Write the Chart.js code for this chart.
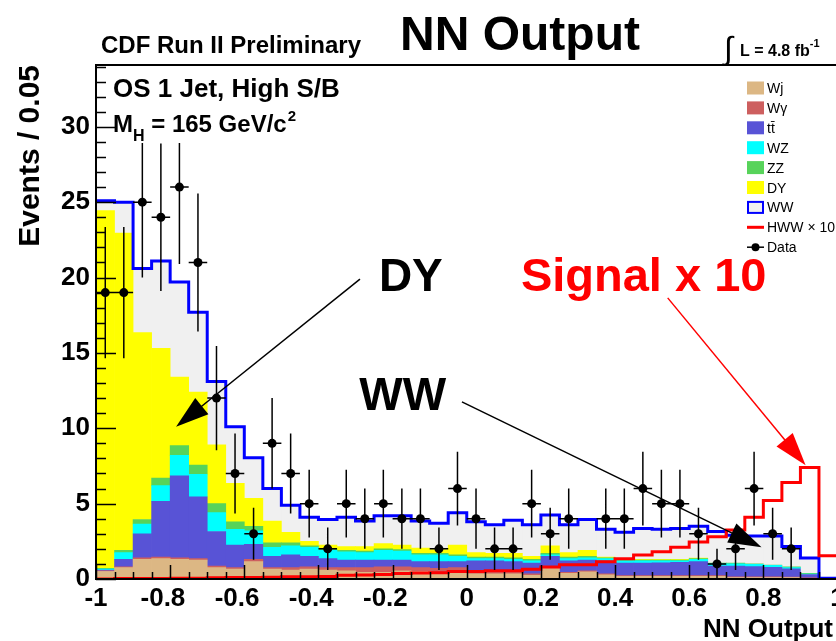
<!DOCTYPE html>
<html>
<head>
<meta charset="utf-8">
<title>NN Output</title>
<script src="https://cdn.jsdelivr.net/npm/chart.js@4.4.1/dist/chart.umd.min.js"></script>
<style>
  html, body { margin: 0; padding: 0; background: #ffffff; overflow: hidden; }
  canvas { display: block; }
</style>
</head>
<body>
<canvas id="chart" width="842" height="641"></canvas>
<script>
// NN output, 40 bins of 0.05 between -1 and 1
const binLow = -1;
const binWidth = 0.05;
const nBins = 40;

// stacked backgrounds, bottom to top
const wj = [0.5, 0.75, 1.3, 1.35, 1.3, 1.25, 0.75, 0.65, 1.15, 0.65, 0.6, 0.65, 0.6, 0.55, 0.45, 0.45, 0.55, 0.5, 0.4, 0.55,
            0.35, 0.35, 0.35, 0.25, 0.7, 0.38, 0.47, 0.27, 0.17, 0.17, 0.17, 0.17, 0.17, 0.17, 0.1, 0.1, 0.1, 0.1, 0.05, 0];
const wgamma = [0.05, 0.05, 0.1, 0.1, 0.1, 0.1, 0.1, 0.1, 0.15, 0.1, 0.15, 0.15, 0.15, 0.2, 0.3, 0.35, 0.25, 0.25, 0.3, 0.2,
                0.1, 0.1, 0.1, 0.1, 0.1, 0.07, 0.08, 0.08, 0.05, 0.05, 0.05, 0.05, 0.05, 0.05, 0.04, 0.04, 0.04, 0.03, 0.02, 0];
const ttbar = [0.05, 0.5, 1.6, 3.7, 5.45, 4.1, 2.3, 1.5, 1.0, 0.75, 0.85, 0.7, 0.6, 0.5, 0.5, 0.45, 0.45, 0.4, 0.45, 0.4,
               0.75, 0.75, 0.7, 0.7, 0.7, 0.75, 0.7, 0.85, 0.83, 0.83, 0.86, 0.88, 0.93, 0.64, 0.72, 0.68, 0.64, 0.55, 0.23, 0];
const wz = [0.05, 0.45, 0.65, 1.05, 1.35, 1.5, 1.25, 1.05, 0.9, 0.6, 0.6, 0.6, 0.55, 0.55, 0.5, 0.65, 0.6, 0.45, 0.45, 0.35,
            0.15, 0.15, 0.15, 0.15, 0.1, 0.15, 0.15, 0.15, 0.15, 0.15, 0.12, 0.1, 0.15, 0.14, 0.14, 0.15, 0.12, 0.07, 0.03, 0];
const zz = [0.05, 0.15, 0.3, 0.5, 0.65, 0.6, 0.6, 0.5, 0.3, 0.3, 0.2, 0.1, 0.1, 0.1, 0.1, 0.1, 0.1, 0.1, 0.1, 0.1,
            0.1, 0.1, 0.1, 0.1, 0.1, 0.1, 0.1, 0.05, 0.05, 0.05, 0.05, 0.05, 0.05, 0.05, 0.05, 0.03, 0.03, 0.05, 0.04, 0];
const dy = [23.75, 21.05, 12.4, 8.6, 4.55, 4.85, 3.9, 2.55, 1.85, 1.45, 0.7, 0.3, 0.25, 0.25, 0.3, 0.35, 0.3, 0.35, 0.25, 0.65,
            0.3, 0.25, 0.3, 0.2, 0.5, 0.3, 0.4, 0.05, 0.05, 0.05, 0.05, 0.05, 0.03, 0, 0, 0, 0, 0, 0, 0];
const ww = [0.65, 2.05, 4.25, 5.8, 6.3, 5.3, 4.2, 3.75, 2.7, 2.15, 1.8, 1.6, 1.7, 1.95, 1.7, 1.85, 1.95, 1.8, 1.75, 2.15,
            2.05, 1.9, 2.2, 2.1, 2.05, 1.85, 2.05, 1.85, 1.8, 2.05, 2.0, 2.05, 2.12, 2.1, 1.85, 1.85, 1.92, 1.35, 1.03, 0.05];

// signal (HWW x 10), drawn as a line
const hwwX10 = [0, 0.03, 0.03, 0.03, 0.05, 0.05, 0.08, 0.1, 0.1, 0.12, 0.15, 0.15, 0.17, 0.25, 0.27, 0.3, 0.37, 0.4, 0.42, 0.5,
                0.5, 0.55, 0.55, 0.65, 0.8, 0.95, 0.95, 1.15, 1.35, 1.6, 1.8, 2.1, 2.45, 2.8, 3.25, 4.1, 5.2, 6.4, 7.4, 1.55];

// observed events and their errors
const dataCounts = [19, 19, 25, 24, 26, 21, 12, 7, 3, 9, 7, 5, 2, 5, 4, 5, 4, 4, 2, 6,
                    4, 2, 2, 5, 3, 4, null, 4, 4, 6, 5, 5, 3, 1, 2, 6, 3, 2, null, null];
const dataErrors = [4.36, 4.36, 5, 4.9, 5.1, 4.58, 3.46, 2.65, 1.73, 3, 2.65, 2.24, 1.41, 2.24, 2, 2.24, 2, 2, 1.41, 2.45,
                    2, 1.41, 1.41, 2.24, 1.73, 2, null, 2, 2, 2.45, 2.24, 2.24, 1.73, 1, 1.41, 2.45, 1.73, 1.41, null, null];

const xTickValues = [-1, -0.8, -0.6, -0.4, -0.2, 0, 0.2, 0.4, 0.6, 0.8, 1];
const yTickValues = [0, 5, 10, 15, 20, 25, 30];

const FONT = "'Liberation Sans', Arial, Helvetica, sans-serif";

const binCenters = Array.from({length: nBins}, (_, i) => binLow + (i + 0.5) * binWidth);
const binEdges = Array.from({length: nBins + 1}, (_, i) => binLow + i * binWidth);
const stackTop = binCenters.map((_, i) => wj[i] + wgamma[i] + ttbar[i] + wz[i] + zz[i] + dy[i] + ww[i]);

function histBars(values) {
  return values.map((v, i) => ({x: binCenters[i], y: v === 0 ? null : v}));
}

function stepLine(values) {
  const pts = values.map((v, i) => ({x: binEdges[i], y: v}));
  pts.push({x: binEdges[nBins], y: values[nBins - 1]});
  return pts;
}

function barSet(label, values, color) {
  return {
    type: 'bar', label, data: histBars(values), backgroundColor: color,
    borderWidth: 0, barPercentage: 1, categoryPercentage: 1, order: 3
  };
}

// ROOT keeps the digits centred on the tick, the minus sign hangs to the left
function xLabel(v) {
  return v < 0 && v > -1 ? String(v) + '\u2007' : String(v);
}

const annotations = [
  {text: 'DY', color: '#000000', size: 46, at: [-0.237, 19.1], from: [-0.288, 19.9], to: [-0.784, 10.1]},
  {text: 'Signal x 10', color: '#ff0000', size: 47, at: [0.146, 19.1], from: [0.542, 18.65], to: [0.914, 7.55]},
  {text: 'WW', color: '#000000', size: 46, at: [-0.29, 11.2], from: [-0.013, 11.75], to: [0.795, 2.1]}
];

const legendOrder = ['Wj', 'Wγ', 'tt̄', 'WZ', 'ZZ', 'DY', 'WW', 'HWW × 10', 'Data'];

function put(ctx, s, x, y, size, opt = {}) {
  ctx.font = `${opt.weight || 'bold'} ${size}px ${FONT}`;
  ctx.fillStyle = opt.color || '#000';
  ctx.textAlign = opt.align || 'left';
  ctx.textBaseline = opt.baseline || 'alphabetic';
  ctx.fillText(s, x, y);
  return ctx.measureText(s).width;
}

function arrow(ctx, x0, y0, x1, y1, color) {
  const ang = Math.atan2(y1 - y0, x1 - x0);
  const len = 33, half = 10.5;
  ctx.strokeStyle = color;
  ctx.fillStyle = color;
  ctx.lineWidth = 1.5;
  ctx.beginPath();
  ctx.moveTo(x0, y0);
  ctx.lineTo(x1 - Math.cos(ang) * len * 0.8, y1 - Math.sin(ang) * len * 0.8);
  ctx.stroke();
  const bx = x1 - Math.cos(ang) * len, by = y1 - Math.sin(ang) * len;
  ctx.beginPath();
  ctx.moveTo(x1, y1);
  ctx.lineTo(bx + Math.sin(ang) * half, by - Math.cos(ang) * half);
  ctx.lineTo(bx - Math.sin(ang) * half, by + Math.cos(ang) * half);
  ctx.closePath();
  ctx.fill();
}

const overlay = {
  id: 'overlay',
  beforeDatasetDraw(chart, args) {
    if (chart.data.datasets[args.index].label !== 'Data') return;
    const {ctx, chartArea: a, scales: {x, y}} = chart;
    ctx.save();
    ctx.beginPath();
    ctx.rect(a.left, a.top, a.right - a.left, a.bottom - a.top);
    ctx.clip();
    ctx.strokeStyle = '#000';
    ctx.lineWidth = 1.5;
    ctx.beginPath();
    dataCounts.forEach((v, i) => {
      if (v === null) return;
      const px = x.getPixelForValue(binCenters[i]);
      const py = y.getPixelForValue(v);
      ctx.moveTo(x.getPixelForValue(binEdges[i]), py);
      ctx.lineTo(x.getPixelForValue(binEdges[i + 1]), py);
      ctx.moveTo(px, y.getPixelForValue(v - dataErrors[i]));
      ctx.lineTo(px, y.getPixelForValue(v + dataErrors[i]));
    });
    ctx.stroke();
    ctx.restore();
  },
  afterDraw(chart) {
    const {ctx, chartArea: a, scales: {x, y}} = chart;
    const sets = chart.data.datasets;
    const byLabel = l => sets.find(d => d.label === l);
    ctx.save();

    // white box behind the selection text
    ctx.fillStyle = '#ffffff';
    ctx.fillRect(a.left + 1, a.top + 1, 250, 77);

    // frame
    ctx.strokeStyle = '#000';
    ctx.lineWidth = 2;
    ctx.strokeRect(a.left, a.top, a.right - a.left, a.bottom - a.top);

    // inward ticks
    ctx.lineWidth = 1.5;
    ctx.beginPath();
    for (let v = 0; v <= y.max; v += 1) {
      const py = Math.round(y.getPixelForValue(v)) + 0.5;
      const len = v % 5 === 0 ? 20 : 10;
      ctx.moveTo(a.left, py);
      ctx.lineTo(a.left + len, py);
    }
    binEdges.forEach((v, i) => {
      const px = Math.round(x.getPixelForValue(v)) + 0.5;
      const len = i % 4 === 0 ? 14 : 7;
      ctx.moveTo(px, a.bottom);
      ctx.lineTo(px, a.bottom - len);
    });
    ctx.stroke();

    // header
    put(ctx, 'CDF Run II Preliminary', 101, 53, 24);
    put(ctx, 'NN Output', 400, 50, 48);
    put(ctx, '∫', 724, 59, 32, {weight: 'normal'});
    const lw = put(ctx, 'L = 4.8 fb', 740, 56, 16);
    put(ctx, '-1', 740 + lw, 47, 11);

    // x axis title
    put(ctx, 'NN Output', 833, 637, 26, {align: 'right'});

    // selection text
    put(ctx, 'OS 1 Jet, High S/B', 113, 97, 26);
    let cx = 113;
    cx += put(ctx, 'M', cx, 132, 24);
    cx += put(ctx, 'H', cx, 141, 16);
    cx += put(ctx, ' = 165 GeV/c', cx, 132, 24);
    put(ctx, '2', cx + 1, 121, 15);

    // annotations with arrows
    annotations.forEach(an => {
      put(ctx, an.text, x.getPixelForValue(an.at[0]), y.getPixelForValue(an.at[1]), an.size, {color: an.color});
      arrow(ctx, x.getPixelForValue(an.from[0]), y.getPixelForValue(an.from[1]),
            x.getPixelForValue(an.to[0]), y.getPixelForValue(an.to[1]), an.color);
    });

    // legend
    const lx = 747, ty = 88, step = 19.9;
    legendOrder.forEach((label, k) => {
      const cy = ty + k * step;
      if (label === 'HWW × 10') {
        ctx.strokeStyle = byLabel(label).borderColor;
        ctx.lineWidth = 3;
        ctx.beginPath(); ctx.moveTo(lx, cy); ctx.lineTo(lx + 17, cy); ctx.stroke();
      } else if (label === 'Data') {
        ctx.strokeStyle = '#000'; ctx.lineWidth = 1.5;
        ctx.beginPath(); ctx.moveTo(lx, cy); ctx.lineTo(lx + 17, cy); ctx.stroke();
        ctx.fillStyle = byLabel(label).pointBackgroundColor;
        ctx.beginPath(); ctx.arc(lx + 8.5, cy, 4, 0, Math.PI * 2); ctx.fill();
      } else {
        ctx.fillStyle = byLabel(label).backgroundColor;
        ctx.fillRect(lx, cy - 6.5, 17, 13);
        if (label === 'WW') {
          ctx.strokeStyle = byLabel('WW outline').borderColor;
          ctx.lineWidth = 2;
          ctx.strokeRect(lx + 1, cy - 5.5, 15, 11);
        }
      }
      put(ctx, label, lx + 20, cy + 5, 14, {weight: 'normal'});
    });
    ctx.restore();
  }
};

new Chart(document.getElementById('chart'), {
  type: 'bar',
  data: {
    datasets: [
      barSet('Wj', wj, '#dcb784'),
      barSet('Wγ', wgamma, '#cd5f5f'),
      barSet('tt̄', ttbar, '#5853d6'),
      barSet('WZ', wz, '#00ffff'),
      barSet('ZZ', zz, '#57d35a'),
      barSet('DY', dy, '#ffff00'),
      barSet('WW', ww, '#f0f0f0'),
      {type: 'line', label: 'WW outline', data: stepLine(stackTop), stepped: true, borderColor: '#0000ff',
       borderWidth: 3, pointRadius: 0, fill: false, order: 2, stack: 'wwOutline'},
      {type: 'line', label: 'HWW × 10', data: stepLine(hwwX10), stepped: true, borderColor: '#ff0000',
       borderWidth: 3, pointRadius: 0, fill: false, order: 1, stack: 'signal'},
      {type: 'line', label: 'Data', data: dataCounts.map((v, i) => ({x: binCenters[i], y: v})), showLine: false,
       pointRadius: 4.5, pointBackgroundColor: '#000000', pointBorderWidth: 0, order: 0, stack: 'data'}
    ]
  },
  options: {
    responsive: false,
    animation: false,
    devicePixelRatio: 1,
    layout: {padding: {top: 65, right: 0, left: 0, bottom: 0}},
    plugins: {legend: {display: false}, tooltip: {enabled: false}},
    scales: {
      x: {
        type: 'linear', min: -1, max: 1, offset: false, stacked: true,
        grid: {display: false, drawTicks: false}, border: {display: false},
        afterBuildTicks: s => { s.ticks = xTickValues.map(v => ({value: v})); },
        ticks: {font: {family: FONT, size: 26, weight: 'bold'}, color: '#000', padding: 4,
                maxRotation: 0, autoSkip: false, callback: xLabel},
        afterFit: s => { s.height = 62; s.paddingLeft = 0; s.paddingRight = 0; }
      },
      y: {
        type: 'linear', min: 0, max: 34.1, stacked: true,
        grid: {display: false, drawTicks: false}, border: {display: false},
        afterBuildTicks: s => { s.ticks = yTickValues.map(v => ({value: v})); },
        ticks: {font: {family: FONT, size: 26, weight: 'bold'}, color: '#000', padding: 6},
        title: {display: true, text: 'Events / 0.05', align: 'end', color: '#000',
                font: {family: FONT, size: 30, weight: 'bold'}, padding: {top: 13, bottom: 0}},
        afterFit: s => { s.width = 96; s.paddingTop = 0; s.paddingBottom = 0; }
      }
    }
  },
  plugins: [overlay]
});
</script>
</body>
</html>
